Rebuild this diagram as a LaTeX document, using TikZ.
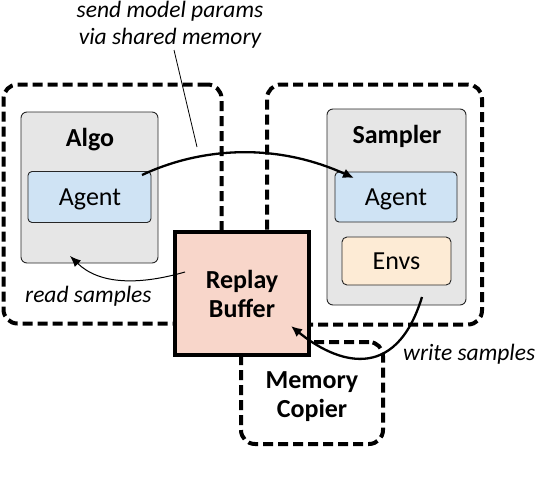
\documentclass[tikz,border=0pt]{standalone}
\usepackage{fontspec}
\setmainfont{Carlito}
\usetikzlibrary{arrows.meta}
\definecolor{boxgray}{HTML}{E6E6E6}
\definecolor{agentblue}{HTML}{CFE3F4}
\definecolor{envorange}{HTML}{FDEBD5}
\definecolor{replayred}{HTML}{F8D6CA}
\begin{document}
\begin{tikzpicture}[x=1pt,y=-1pt,
  grp/.style={draw=black, line width=4pt, dash pattern=on 10pt off 5pt, rounded corners=14pt, rectangle, inner sep=0pt},
  outerbox/.style={draw=black!85, line width=0.9pt, fill=boxgray, rounded corners=6pt, rectangle, inner sep=0pt},
  agentbox/.style={draw=black!85, line width=0.9pt, fill=agentblue, rounded corners=4pt, rectangle, inner sep=0pt},
  envbox/.style={draw=black!85, line width=0.9pt, fill=envorange, rounded corners=5pt, rectangle, inner sep=0pt},
  replaybox/.style={draw=black, line width=4pt, fill=replayred, rectangle, inner sep=0pt},
  title/.style={anchor=base, inner sep=0pt, font=\fontsize{26}{31}\selectfont\bfseries},
  plain/.style={anchor=base, inner sep=0pt, font=\fontsize{26}{31}\selectfont},
  note/.style={anchor=base, inner sep=0pt, font=\fontsize{23.5}{28}\selectfont\itshape},
  conn/.style={draw=black, line width=2.3pt, -{Latex[length=11pt,width=10pt]}},
  thinconn/.style={draw=black, line width=1pt, -{Latex[length=11pt,width=9pt]}},
  leader/.style={draw=black, line width=0.8pt}
]
\useasboundingbox (0,0) rectangle (536,480);

% dashed groups
\node[grp, minimum width=218pt, minimum height=239pt] (leftgrp) at (112.5,204) {};
\node[grp, minimum width=215pt, minimum height=240pt] (rightgrp) at (374.5,204.5) {};
\node[grp, minimum width=142pt, minimum height=102pt] (copier) at (312,393) {};

% Algo
\node[outerbox, minimum width=137pt, minimum height=151pt] (algo) at (89.5,187.5) {};
\node[agentbox, minimum width=123pt, minimum height=51pt] (agentL) at (89.5,197) {};

% Sampler
\node[outerbox, minimum width=139pt, minimum height=196pt] (sampler) at (396.5,207) {};
\node[agentbox, minimum width=122pt, minimum height=50pt] (agentR) at (396,197) {};
\node[envbox, minimum width=109pt, minimum height=48pt] (envs) at (396.5,261) {};

% Replay buffer
\node[replaybox, minimum width=134pt, minimum height=123pt] (replay) at (242,293.5) {};

% texts
\node[title] (algoT) at (90,146) {Algo};
\node[plain] (agentLT) at (90,205.5) {Agent};
\node[title] (samplerT) at (397,143) {Sampler};
\node[plain] (agentRT) at (396,205.5) {Agent};
\node[plain] (envsT) at (396.5,269.5) {Envs};
\node[title] (replayT1) at (242,288.5) {Replay};
\node[title] (replayT2) at (242,317.5) {Buffer};
\node[title] (copierT1) at (312,388) {Memory};
\node[title] (copierT2) at (312,417) {Copier};
\node[note] (sendT1) at (170,17) {send model params};
\node[note] (sendT2) at (170,44) {via shared memory};
\node[note, anchor=base west] (readT) at (25,302) {read samples};
\node[note, anchor=base west] (writeT) at (403,360) {write samples};

% connector end points
\coordinate (sendS) at (142,175);
\coordinate (sendE) at (354,178);
\coordinate (readS) at (185,272);
\coordinate (readE) at (70,256);
\coordinate (writeS) at (422,297);
\coordinate (writeE) at (291,326);
\coordinate (leadS) at (174,50);
\coordinate (leadE) at (197,147);

\draw[conn] (sendS) .. controls (195,150) and (270,140) .. (sendE);
\draw[thinconn] (readS) .. controls (140,285) and (100,285) .. (readE);
\draw[conn] (writeS) .. controls (395,385) and (335,362) .. (writeE);
\draw[leader] (leadS) -- (leadE);
\end{tikzpicture}
\end{document}
